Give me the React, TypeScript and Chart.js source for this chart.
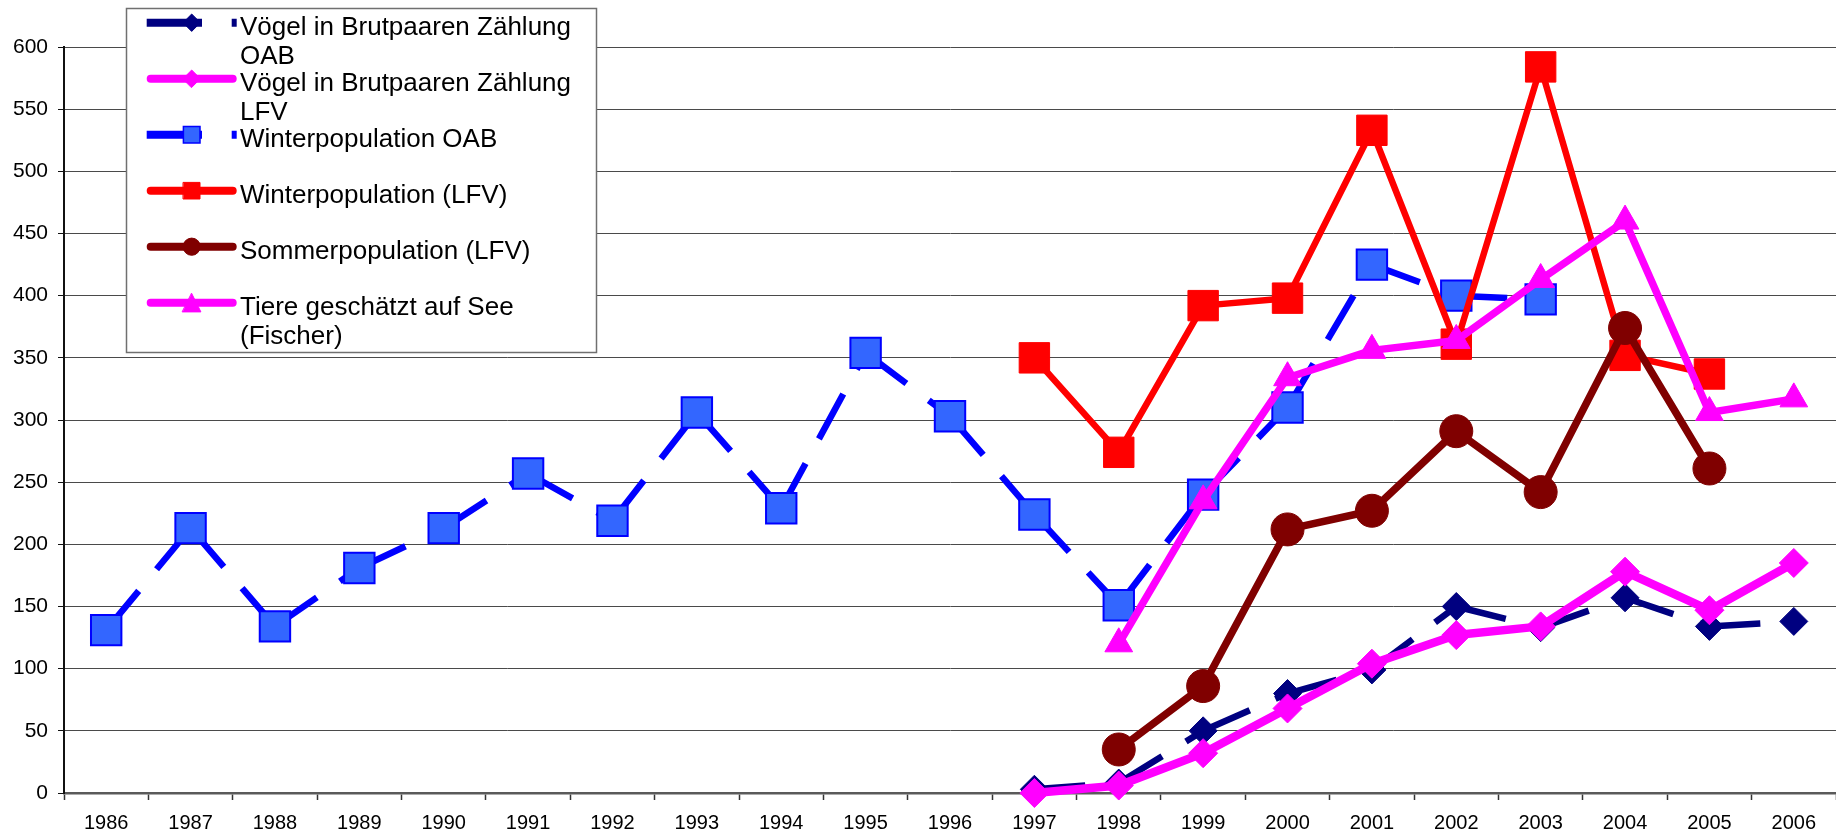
import React, { useEffect, useRef } from 'react';
import { Chart, registerables } from 'chart.js';

Chart.register(...registerables);

// ---------- data ----------
const years = ['1986', '1987', '1988', '1989', '1990', '1991', '1992', '1993', '1994', '1995', '1996',
  '1997', '1998', '1999', '2000', '2001', '2002', '2003', '2004', '2005', '2006'];

const yTickValues = [0, 50, 100, 150, 200, 250, 300, 350, 400, 450, 500, 550, 600];

const seriesNames = [
  'Vögel in Brutpaaren Zählung OAB',
  'Vögel in Brutpaaren Zählung LFV',
  'Winterpopulation OAB',
  'Winterpopulation (LFV)',
  'Sommerpopulation (LFV)',
  'Tiere geschätzt auf See (Fischer)',
];

const birdsOAB = [null, null, null, null, null, null, null, null, null, null, null,
  3, 8, 50, 80, 99, 150, 133, 157, 134, 138];
const birdsLFV = [null, null, null, null, null, null, null, null, null, null, null,
  0, 6, 32, 68, 104, 127, 134, 178, 147, 185];
const winterOAB = [131, 213, 134, 181, 213, 257, 219, 306, 229, 354, 303,
  224, 151, 240, 310, 425, 400, 397, null, null, null];
const winterLFV = [null, null, null, null, null, null, null, null, null, null, null,
  350, 274, 392, 398, 533, 361, 584, 352, 337, null];
const summerLFV = [null, null, null, null, null, null, null, null, null, null, null,
  null, 35, 86, 212, 227, 291, 242, 374, 261, null];
const fishers = [null, null, null, null, null, null, null, null, null, null, null,
  null, 120, 235, 334, 356, 364, 413, 460, 306, 317];

const seriesValues = [birdsOAB, birdsLFV, winterOAB, winterLFV, summerLFV, fishers];

// ---------- styles ----------
const FONT = "'Liberation Sans', Arial, Helvetica, sans-serif";

type St = {
  line: string; fill: string; edge: string; width: number; dashed: boolean;
  shape: 'diamond' | 'square' | 'circle' | 'triangle'; radius: number; edgeW: number;
};

const styles: St[] = [
  { line: '#000080', fill: '#000080', edge: '#000080', width: 6.5, dashed: true, shape: 'diamond', radius: 14, edgeW: 1 },
  { line: '#FF00FF', fill: '#FF00FF', edge: '#FF00FF', width: 8.5, dashed: false, shape: 'diamond', radius: 14.5, edgeW: 1 },
  { line: '#0000FF', fill: '#3366FF', edge: '#0000FF', width: 6.5, dashed: true, shape: 'square', radius: 21.5, edgeW: 2 },
  { line: '#FF0000', fill: '#FF0000', edge: '#FF0000', width: 6.5, dashed: false, shape: 'square', radius: 21.5, edgeW: 1 },
  { line: '#800000', fill: '#800000', edge: '#800000', width: 7.5, dashed: false, shape: 'circle', radius: 16.5, edgeW: 1 },
  { line: '#FF00FF', fill: '#FF00FF', edge: '#FF00FF', width: 7.5, dashed: false, shape: 'triangle', radius: 16, edgeW: 1 },
];

const chartStyle: Record<string, string> = {
  diamond: 'rectRot', square: 'rect', circle: 'circle', triangle: 'triangle',
};

const DASH = [51, 28];

function wrapText(ctx: CanvasRenderingContext2D, text: string, maxW: number): string[] {
  const words = text.split(' ');
  const out: string[] = [];
  let cur = '';
  for (const w of words) {
    const t = cur ? cur + ' ' + w : w;
    if (ctx.measureText(t).width > maxW && cur) {
      out.push(cur);
      cur = w;
    } else cur = t;
  }
  if (cur) out.push(cur);
  return out;
}

const boxLegend = {
  id: 'boxLegend',
  afterDraw(chart: any) {
    const ctx: CanvasRenderingContext2D = chart.ctx;
    ctx.save();
    ctx.fillStyle = '#ffffff';
    ctx.fillRect(126.5, 8.5, 470, 344);
    ctx.strokeStyle = '#707070';
    ctx.lineWidth = 1.5;
    ctx.strokeRect(126.5, 8.5, 470, 344);

    ctx.font = `26px ${FONT}`;
    styles.forEach((st, i) => {
      const my = 22.7 + 56 * i;
      const mx = 191.7;
      ctx.strokeStyle = st.line;
      ctx.lineWidth = 8;
      if (st.dashed) {
        ctx.lineCap = 'butt';
        ctx.beginPath();
        ctx.moveTo(146.7, my); ctx.lineTo(202, my);
        ctx.moveTo(231.7, my); ctx.lineTo(236.7, my);
        ctx.stroke();
      } else {
        ctx.lineCap = 'round';
        ctx.beginPath();
        ctx.moveTo(150.7, my); ctx.lineTo(232.7, my);
        ctx.stroke();
      }
      ctx.fillStyle = st.fill;
      ctx.strokeStyle = st.edge;
      ctx.lineWidth = st.shape === 'square' && st.edgeW > 1 ? 1.5 : 1;
      ctx.beginPath();
      if (st.shape === 'diamond') {
        const r = 8.7;
        ctx.moveTo(mx - r, my); ctx.lineTo(mx, my - r); ctx.lineTo(mx + r, my); ctx.lineTo(mx, my + r);
        ctx.closePath();
      } else if (st.shape === 'square') {
        ctx.rect(mx - 8.3, my - 8.3, 16.6, 16.6);
      } else if (st.shape === 'circle') {
        ctx.arc(mx, my, 8.6, 0, Math.PI * 2);
      } else {
        const r = 9.2;
        ctx.moveTo(mx, my - r); ctx.lineTo(mx + r, my + r); ctx.lineTo(mx - r, my + r);
        ctx.closePath();
      }
      ctx.fill();
      ctx.stroke();

      ctx.fillStyle = '#000';
      ctx.textBaseline = 'alphabetic';
      ctx.textAlign = 'left';
      const lines = wrapText(ctx, seriesNames[i], 350);
      lines.forEach((ln, k) => ctx.fillText(ln, 240, my + 11.8 + k * 29.2));
    });
    ctx.restore();
  },
};

export default function App() {
  const ref = useRef<HTMLCanvasElement>(null);
  useEffect(() => {
    document.body.style.margin = '0';
    Chart.defaults.font.family = FONT;
    const datasets = seriesValues.map((vals, i) => {
      const st = styles[i];
      const ds: any = {
        label: seriesNames[i],
        data: vals,
        borderColor: st.line,
        borderWidth: st.width,
        backgroundColor: st.fill,
        pointStyle: chartStyle[st.shape],
        pointRadius: st.radius,
        pointHoverRadius: st.radius,
        pointBackgroundColor: st.fill,
        pointBorderColor: st.edge,
        pointBorderWidth: st.edgeW,
        tension: 0,
        fill: false,
        spanGaps: false,
        clip: false,
        order: seriesValues.length - 1 - i,
        borderJoinStyle: 'round',
        borderCapStyle: st.dashed ? 'butt' : 'round',
      };
      if (st.dashed) {
        ds.borderDash = DASH;
        ds.segment = {
          borderDashOffset: (c: any) => (c.p0DataIndex % 2) * 0.001,
        };
      }
      return ds;
    });

    const chart = new Chart(ref.current as HTMLCanvasElement, {
      type: 'line',
      data: { labels: years, datasets },
      options: {
        animation: false,
        responsive: false,
        devicePixelRatio: 1,
        layout: { autoPadding: false, padding: { top: 47, left: 0, right: 0, bottom: 0 } },
        plugins: { legend: { display: false }, tooltip: { enabled: false } },
        scales: {
          x: {
            type: 'category',
            offset: true,
            grid: {
              display: true, drawOnChartArea: false, drawTicks: true,
              tickLength: 7, tickColor: '#333', tickWidth: 1.5, offset: true,
            },
            border: { display: true, color: '#5a5a5a', width: 2.5 },
            ticks: {
              color: '#000', font: { size: 20, family: FONT }, padding: 11,
              maxRotation: 0, minRotation: 0, autoSkip: false,
            },
            afterFit: (s: any) => {
              s.height = 42;
              s.paddingLeft = 0;
              s.paddingRight = 0;
            },
          },
          y: {
            type: 'linear',
            min: 0,
            max: 600,
            afterBuildTicks: (s: any) => { s.ticks = yTickValues.map((v) => ({ value: v })); },
            ticks: { color: '#000', font: { size: 21, family: FONT }, padding: 10 },
            grid: { color: '#4a4a4a', lineWidth: 1, tickLength: 6, tickColor: '#111' },
            border: { display: true, color: '#111', width: 2 },
            afterFit: (s: any) => {
              s.width = 64;
              s.paddingTop = 0;
              s.paddingBottom = 0;
            },
          },
        },
      } as any,
      plugins: [boxLegend],
    });
    return () => chart.destroy();
  }, []);

  return (
    <div style={{ position: 'fixed', left: 0, top: 0, width: 1836, height: 835, background: '#fff' }}>
      <canvas ref={ref} width={1836} height={835} style={{ display: 'block', width: 1836, height: 835 }} />
    </div>
  );
}
